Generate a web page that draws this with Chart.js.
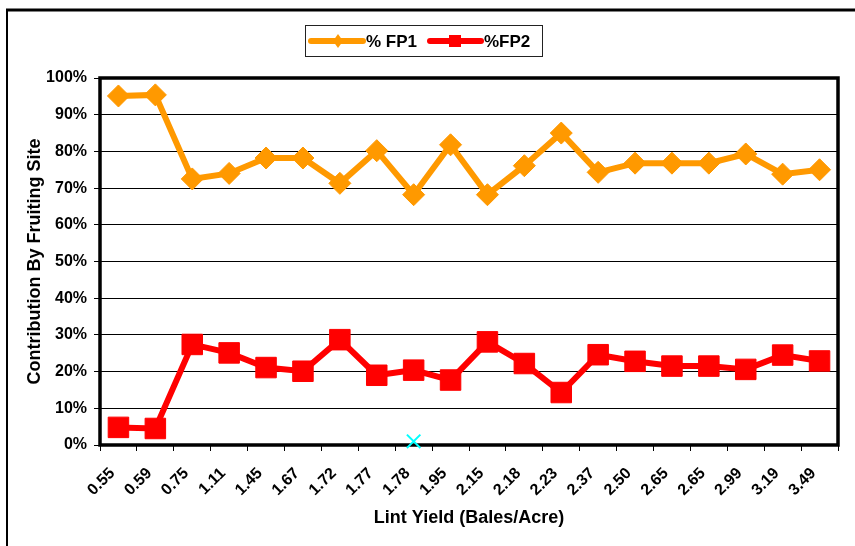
<!DOCTYPE html>
<html>
<head>
<meta charset="utf-8">
<script src="https://cdn.jsdelivr.net/npm/chart.js@4.4.1/dist/chart.umd.min.js"></script>
<style>
  html, body { margin: 0; padding: 0; background: #fff; }
  #wrap { position: relative; width: 855px; height: 546px; }
</style>
</head>
<body>
<div id="wrap"><canvas id="chart" width="855" height="546"></canvas></div>
<script>
const yieldLabels = ["0.55", "0.59", "0.75", "1.11", "1.45", "1.67", "1.72", "1.77", "1.78", "1.95",
  "2.15", "2.18", "2.23", "2.37", "2.50", "2.65", "2.65", "2.99", "3.19", "3.49"];
const fp1 = [95.1, 95.4, 72.5, 74.0, 78.2, 78.2, 71.3, 80.2, 68.2, 81.8,
  68.2, 76.1, 85.0, 74.3, 76.8, 76.8, 76.8, 79.3, 73.8, 75.0];
const fp2 = [4.8, 4.5, 27.4, 25.1, 21.1, 20.1, 28.7, 19.0, 20.4, 17.7,
  28.1, 22.2, 14.3, 24.6, 22.8, 21.5, 21.5, 20.6, 24.5, 22.9];
const stray = [null, null, null, null, null, null, null, null, 1, null,
  null, null, null, null, null, null, null, null, null, null];
const yTicks = [0, 10, 20, 30, 40, 50, 60, 70, 80, 90, 100];

const ORANGE = "#FF9900";
const RED = "#FF0000";
const CYAN = "#00FFFF";
const FONT = "'Liberation Sans', Arial, sans-serif";

Chart.defaults.font.family = FONT;
Chart.defaults.color = "#000";

// outer frame, plot border and the boxed legend
const framePlugin = {
  id: "frame",
  beforeDraw(chart) {
    const { ctx, width, height } = chart;
    ctx.save();
    ctx.fillStyle = "#fff";
    ctx.fillRect(0, 0, width, height);
    ctx.strokeStyle = "#000";
    ctx.lineWidth = 3;
    ctx.beginPath();
    ctx.moveTo(6, 10);
    ctx.lineTo(width, 10);
    ctx.stroke();
    ctx.lineWidth = 2;
    ctx.beginPath();
    ctx.moveTo(7, 9);
    ctx.lineTo(7, height);
    ctx.stroke();
    ctx.restore();
  },
  beforeDatasetsDraw(chart) {
    const { ctx, chartArea: a } = chart;
    ctx.save();
    ctx.strokeStyle = "#000";
    ctx.lineWidth = 3.5;
    ctx.strokeRect(a.left, a.top, a.right - a.left, a.bottom - a.top);
    ctx.restore();
  },
  afterDraw(chart) {
    const { ctx } = chart;
    ctx.save();
    // legend
    ctx.lineWidth = 1;
    ctx.strokeStyle = "#222";
    ctx.strokeRect(305.5, 25.5, 237, 31);
    const y = 41;
    ctx.lineCap = "round";
    ctx.lineWidth = 6;
    ctx.strokeStyle = ORANGE;
    ctx.beginPath();
    ctx.moveTo(311, y);
    ctx.lineTo(363, y);
    ctx.stroke();
    ctx.fillStyle = ORANGE;
    ctx.beginPath();
    ctx.moveTo(338, y - 7);
    ctx.lineTo(343, y);
    ctx.lineTo(338, y + 7);
    ctx.lineTo(333, y);
    ctx.closePath();
    ctx.fill();
    ctx.strokeStyle = RED;
    ctx.beginPath();
    ctx.moveTo(430, y);
    ctx.lineTo(481, y);
    ctx.stroke();
    ctx.fillStyle = RED;
    ctx.fillRect(449, y - 6, 12, 12);
    ctx.fillStyle = "#000";
    ctx.font = "bold 17px " + FONT;
    ctx.textBaseline = "middle";
    ctx.fillText("% FP1", 366, y + 1);
    ctx.fillText("%FP2", 484, y + 1);
    ctx.restore();
  },
};

new Chart(document.getElementById("chart"), {
  type: "line",
  data: {
    labels: yieldLabels,
    datasets: [
      {
        label: "% FP1",
        data: fp1,
        borderColor: ORANGE,
        backgroundColor: ORANGE,
        borderWidth: 6,
        pointStyle: "rectRot",
        pointRadius: 11,
        pointBorderWidth: 1,
        tension: 0,
      },
      {
        label: "%FP2",
        data: fp2,
        borderColor: RED,
        backgroundColor: RED,
        borderWidth: 6,
        pointStyle: "rect",
        pointRadius: 14.5,
        pointBorderWidth: 1,
        tension: 0,
      },
      {
        label: "",
        data: stray,
        showLine: false,
        clip: false,
        borderColor: CYAN,
        backgroundColor: CYAN,
        pointStyle: "crossRot",
        pointRadius: 9.5,
        pointBorderWidth: 2,
      },
    ],
  },
  options: {
    responsive: false,
    animation: false,
    layout: { padding: { top: 78, right: 17, bottom: 0, left: 9 } },
    plugins: {
      legend: { display: false },
      tooltip: { enabled: false },
    },
    scales: {
      x: {
        offset: true,
        afterFit: (scale) => { scale.height = 101; },
        grid: {
          offset: true,
          drawOnChartArea: false,
          drawTicks: true,
          tickLength: 6,
          color: "#000",
        },
        border: { display: false },
        ticks: {
          autoSkip: false,
          maxRotation: 45,
          minRotation: 45,
          padding: 13,
          labelOffset: -6,
          font: { size: 16, weight: "bold" },
        },
        title: {
          display: true,
          text: "Lint Yield (Bales/Acre)",
          font: { size: 18, weight: "bold" },
          padding: { top: 0, bottom: 17 },
        },
      },
      y: {
        min: 0,
        max: 100,
        afterFit: (scale) => { scale.width = 91; },
        afterBuildTicks: (scale) => { scale.ticks = yTicks.map((v) => ({ value: v })); },
        grid: {
          drawTicks: true,
          tickLength: 6,
          color: "#000",
          lineWidth: 1,
        },
        border: { display: false },
        ticks: {
          padding: 7,
          callback: (v) => v + "%",
          font: { size: 16, weight: "bold" },
        },
        title: {
          display: true,
          text: "Contribution By Fruiting Site",
          font: { size: 18, weight: "bold" },
          padding: { top: 15, bottom: 0 },
        },
      },
    },
  },
  plugins: [framePlugin],
});
</script>
</body>
</html>
